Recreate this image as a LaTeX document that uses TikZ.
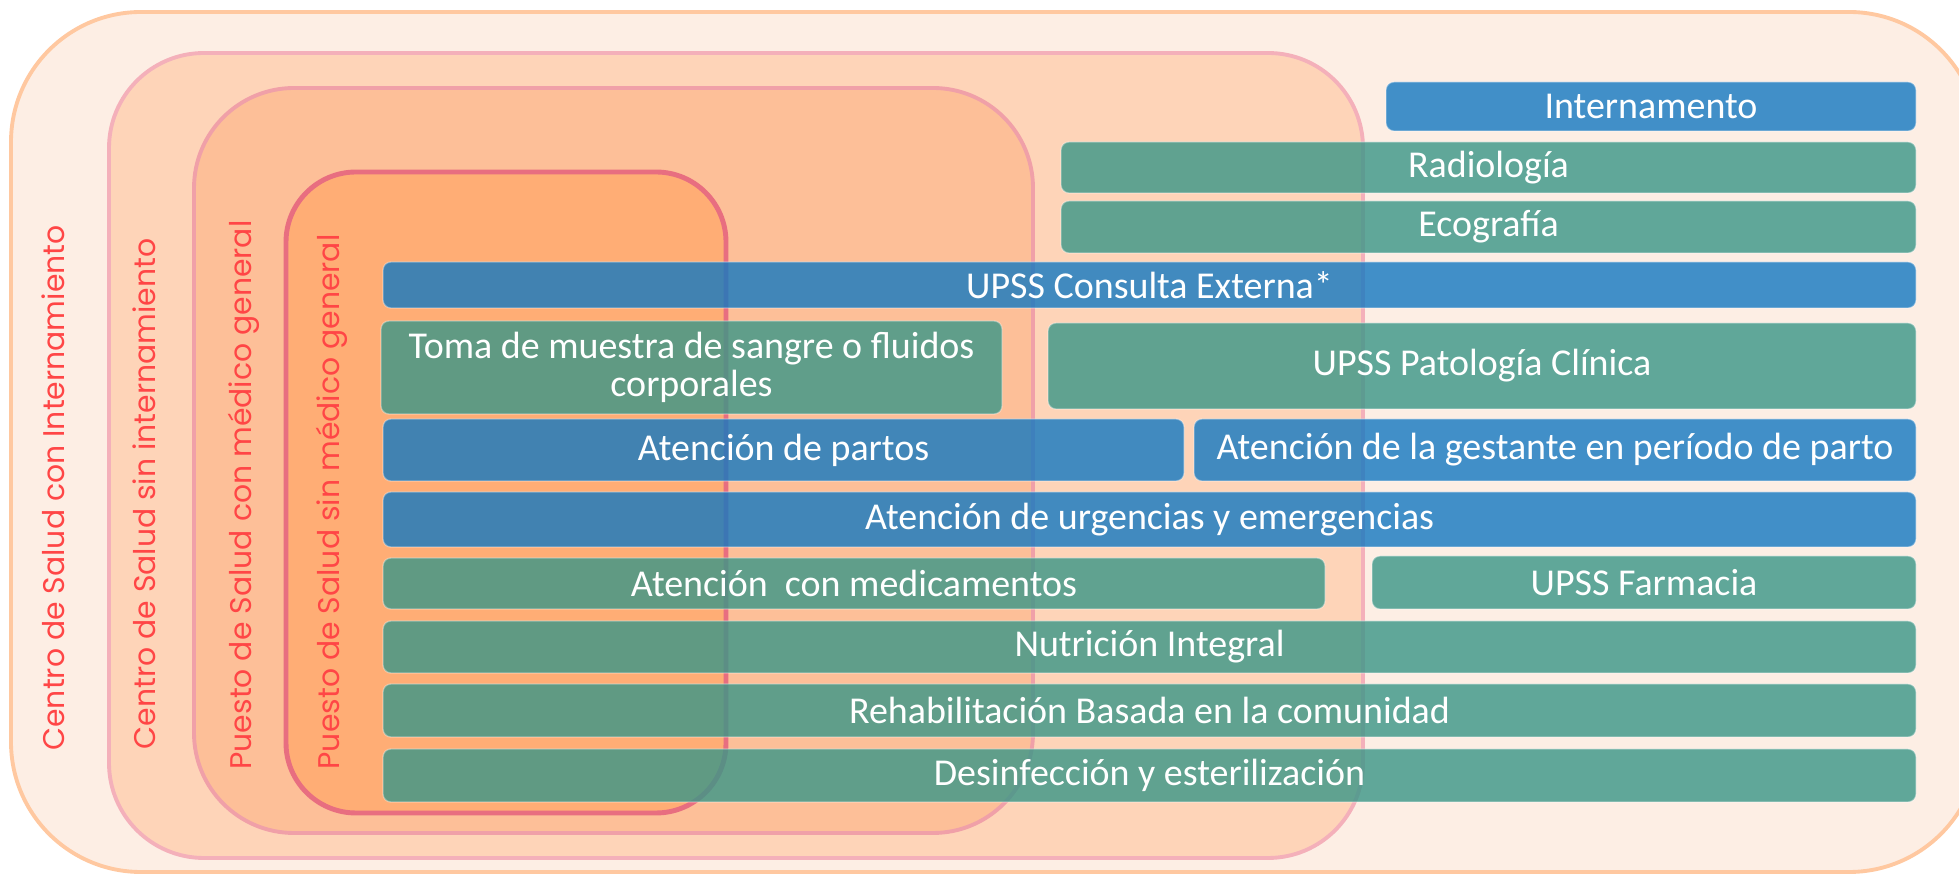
\documentclass[tikz,border=0pt]{standalone}
\usepackage{fontspec}
\setmainfont{Carlito}
\newfontfamily\levelfont{Poppins}
\usetikzlibrary{fit}
\definecolor{ringA}{RGB}{253,238,228}
\definecolor{ringAline}{RGB}{255,200,160}
\definecolor{ringB}{RGB}{254,212,184}
\definecolor{ringBline}{RGB}{244,176,186}
\definecolor{ringC}{RGB}{253,191,152}
\definecolor{ringCline}{RGB}{240,160,168}
\definecolor{ringD}{RGB}{255,173,117}
\definecolor{ringDline}{RGB}{232,110,128}
\definecolor{upssblue}{RGB}{18,120,193}
\definecolor{upssgreen}{RGB}{57,150,135}
\definecolor{levelred}{RGB}{255,70,70}
\begin{document}
\begin{tikzpicture}[x=0.1mm,y=-0.1mm,
    ring/.style={line width=1.1pt},
    unit/.style={inner sep=0pt, rounded corners=0.8mm, fill opacity=0.8,
      draw=white, draw opacity=0.35, line width=0.4pt},
    unittext/.style={text=white, align=center, inner sep=0pt,
      font=\fontsize{10.8}{11}\selectfont},
    bluebox/.style={unit, fill=upssblue},
    greenbox/.style={unit, fill=upssgreen},
    level/.style={rotate=90, text=levelred, font=\levelfont\fontsize{8.5}{9}\selectfont}]
  \useasboundingbox (0,0) rectangle (1959,878);
  \clip (0,0) rectangle (1959,878);
  % nested levels of care
  \draw[ring, fill=ringA, draw=ringAline, rounded corners=13mm] (11,12) rectangle (1979,872);
  \draw[ring, fill=ringB, draw=ringBline, rounded corners=9.5mm] (109,53) rectangle (1363,858);
  \draw[ring, fill=ringC, draw=ringCline, rounded corners=10mm] (194,88) rectangle (1033,833);
  \draw[ring, line width=1.4pt, fill=ringD, draw=ringDline, rounded corners=7mm] (286,172) rectangle (726,813);
  % services
  \node[bluebox, fit={(1386,82) (1916,131)}] (internamento) {};
  \node[greenbox, fit={(1061,142) (1916,193)}] (radiologia) {};
  \node[greenbox, fit={(1061,201) (1916,253)}] (ecografia) {};
  \node[bluebox, fit={(383,262) (1916,308)}] (consulta) {};
  \node[greenbox, fit={(381,321) (1002,414)}] (muestra) {};
  \node[greenbox, fit={(1048,323) (1916,409)}] (patologia) {};
  \node[bluebox, fit={(383,419) (1184,481)}] (partos) {};
  \node[bluebox, fit={(1194,419) (1916,481)}] (gestante) {};
  \node[bluebox, fit={(383,492) (1916,547)}] (urgencias) {};
  \node[greenbox, fit={(383,558) (1325,609)}] (medicamentos) {};
  \node[greenbox, fit={(1372,556) (1916,609)}] (farmacia) {};
  \node[greenbox, fit={(383,621) (1916,673)}] (nutricion) {};
  \node[greenbox, fit={(383,684) (1916,737)}] (rehabilitacion) {};
  \node[greenbox, fit={(383,749) (1916,802)}] (desinfeccion) {};
  \node[unittext] at (internamento) {Internamento};
  \node[unittext] at (radiologia) {Radiología};
  \node[unittext] at (ecografia) {Ecografía};
  \node[unittext] at (consulta) {UPSS Consulta Externa*};
  \node[unittext] at (muestra) {Toma de muestra de sangre o fluidos\\corporales};
  \node[unittext] at (patologia) {UPSS Patología Clínica};
  \node[unittext] at (partos) {Atención de partos};
  \node[unittext] at (gestante) {Atención de la gestante en período de parto};
  \node[unittext] at (urgencias) {Atención de urgencias y emergencias};
  \node[unittext] at (medicamentos) {Atención\ \ con medicamentos};
  \node[unittext] at (farmacia) {UPSS Farmacia};
  \node[unittext] at (nutricion) {Nutrición Integral};
  \node[unittext] at (rehabilitacion) {Rehabilitación Basada en la comunidad};
  \node[unittext] at (desinfeccion) {Desinfección y esterilización};
  % level names
  \node[level] (conInternamiento) at (53,488) {Centro de Salud con Internamiento};
  \node[level] (sinInternamiento) at (144,494) {Centro de Salud sin internamiento};
  \node[level] (conMedico) at (244,495) {Puesto de Salud con médico general};
  \node[level] (sinMedico) at (332,502) {Puesto de Salud sin médico general};
\end{tikzpicture}
\end{document}
